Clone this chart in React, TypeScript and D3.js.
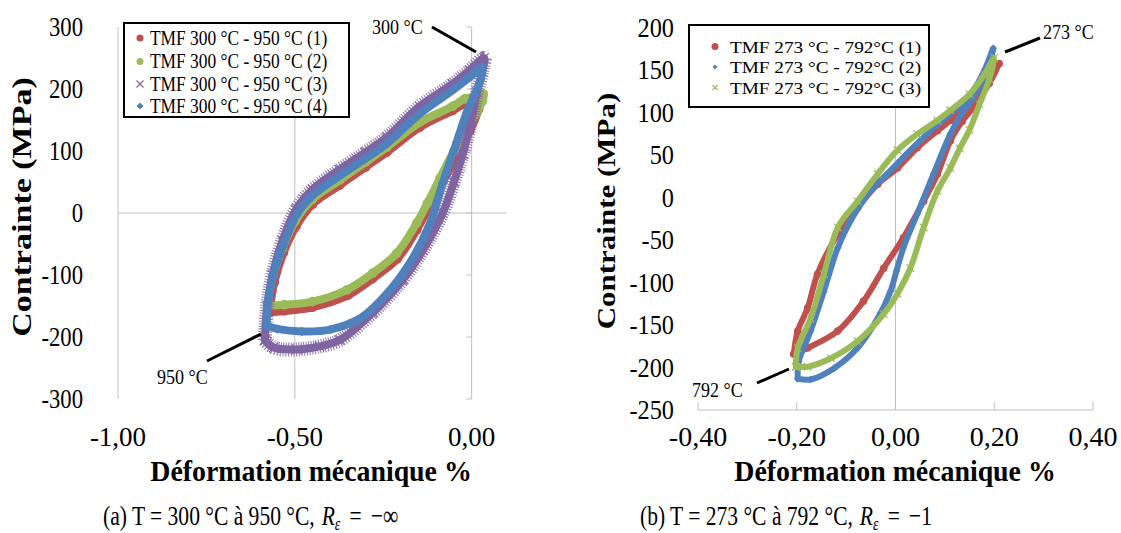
import React from "react";
import * as d3 from "d3";

// ---------- DATA (strain %, stress MPa) ----------
// Left chart: TMF 300 °C - 950 °C
const leftSeriesNames = [
  "TMF 300 °C - 950 °C (1)",
  "TMF 300 °C - 950 °C (2)",
  "TMF 300 °C - 950 °C (3)",
  "TMF 300 °C - 950 °C (4)",
];
const tmf300_1: [number, number][] = [
  [-0.572, -160], [-0.558, -112], [-0.532, -64], [-0.497, -22], [-0.45, 14], [-0.373, 45],
  [-0.3, 74], [-0.24, 98], [-0.147, 138], [-0.054, 165], [-0.015, 177], [0.022, 182],
  [0.02, 168], [-0.005, 132], [-0.04, 92], [-0.08, 52], [-0.12, 10], [-0.155, -27],
  [-0.21, -74], [-0.28, -106], [-0.35, -133], [-0.45, -152], [-0.53, -158], [-0.572, -160],
];
const tmf300_2: [number, number][] = [
  [-0.577, -150], [-0.563, -104], [-0.535, -58], [-0.5, -14], [-0.45, 22], [-0.373, 53],
  [-0.3, 82], [-0.24, 106], [-0.147, 146], [-0.054, 172], [-0.02, 184], [0.01, 188], [0.033, 192],
  [0.03, 180], [0.012, 160], [-0.01, 140], [-0.05, 100], [-0.09, 56], [-0.125, 16], [-0.155, -16],
  [-0.212, -65], [-0.28, -97], [-0.353, -124], [-0.45, -143], [-0.53, -148], [-0.577, -150],
];
const tmf300_3: [number, number][] = [
  [-0.585, -205], [-0.578, -150], [-0.563, -100], [-0.535, -45], [-0.496, 6], [-0.45, 38],
  [-0.373, 70], [-0.3, 98], [-0.24, 122], [-0.147, 172], [-0.054, 208], [-0.006, 230], [0.035, 250],
  [0.03, 228], [0.015, 195], [0.0, 152], [-0.025, 95], [-0.05, 50], [-0.082, 0], [-0.138, -60],
  [-0.195, -108], [-0.28, -161], [-0.373, -205], [-0.43, -215], [-0.494, -220], [-0.56, -217], [-0.585, -205],
];
const tmf300_4: [number, number][] = [
  [-0.58, -182], [-0.576, -145], [-0.563, -103], [-0.535, -55], [-0.496, -4], [-0.45, 28],
  [-0.373, 60], [-0.3, 88], [-0.24, 112], [-0.147, 160], [-0.054, 198], [-0.006, 219], [0.03, 235],
  [0.025, 215], [0.012, 195], [-0.014, 162], [-0.042, 115], [-0.082, 48], [-0.12, -20], [-0.175, -81],
  [-0.23, -124], [-0.31, -168], [-0.4, -188], [-0.48, -191], [-0.55, -187], [-0.58, -182],
];
const leftXTicks = [-1, -0.5, 0];
const leftYTicks = [-300, -200, -100, 0, 100, 200, 300];

// Right chart: TMF 273 °C - 792 °C
const rightSeriesNames = [
  "TMF 273 °C - 792°C (1)",
  "TMF 273 °C - 792°C (2)",
  "TMF 273 °C - 792°C (3)",
];
const tmf273_1: [number, number][] = [
  [-0.206, -184], [-0.198, -157], [-0.178, -130], [-0.158, -90], [-0.117, -43], [-0.077, -12],
  [-0.036, 16], [0.004, 35], [0.044, 59], [0.085, 79], [0.111, 91], [0.15, 112], [0.185, 138], [0.21, 158],
  [0.19, 135], [0.16, 108], [0.135, 90], [0.111, 67], [0.085, 28], [0.057, -4], [0.016, -47],
  [-0.024, -83], [-0.065, -122], [-0.117, -157], [-0.178, -177], [-0.206, -184],
];
const tmf273_2: [number, number][] = [
  [-0.198, -213], [-0.196, -193], [-0.172, -157], [-0.145, -110], [-0.117, -59], [-0.091, -27],
  [-0.051, 8], [-0.01, 32], [0.03, 56], [0.071, 79], [0.111, 99], [0.15, 120], [0.18, 150], [0.198, 176],
  [0.185, 150], [0.16, 120], [0.135, 100], [0.111, 75], [0.077, 28], [0.044, -19], [0.016, -59],
  [0.002, -86], [-0.01, -110], [-0.036, -142], [-0.077, -177], [-0.125, -201], [-0.172, -214], [-0.198, -213],
];
const tmf273_3: [number, number][] = [
  [-0.202, -199], [-0.198, -177], [-0.172, -142], [-0.145, -90], [-0.117, -35], [-0.077, -4],
  [-0.036, 28], [0.004, 56], [0.044, 75], [0.085, 91], [0.111, 103], [0.15, 122], [0.18, 145], [0.2, 165],
  [0.19, 140], [0.17, 110], [0.15, 80], [0.13, 58], [0.111, 35], [0.085, 8], [0.057, -35], [0.03, -83],
  [0.004, -113], [-0.024, -137], [-0.077, -169], [-0.131, -189], [-0.178, -199], [-0.202, -199],
];
const rightXTicks = [-0.4, -0.2, 0, 0.2, 0.4];
const rightYTicks = [-250, -200, -150, -100, -50, 0, 50, 100, 150, 200];

// ---------- STYLE ----------
const RED = "#c0504d";
const GREEN = "#9bbb59";
const PURPLE = "#8064a2";
const BLUE = "#4f81bd";
const AXIS = "#bfbfbf";
const FONT = "'Liberation Serif', 'Times New Roman', serif";
const SX = 0.82; // horizontal condensation of the reference picture

const fmtComma = (v: number) => d3.format(".2f")(v).replace(".", ",").replace("−", "-");

type TxtProps = {
  x: number; y: number; size: number; anchor?: string; weight?: string | number;
  sx?: number; rotate?: number; children: React.ReactNode;
};
function Txt({ x, y, size, anchor = "start", weight = "normal", sx = SX, rotate, children }: TxtProps) {
  const t = `translate(${x},${y}) scale(${sx},1)` + (rotate ? ` rotate(${rotate})` : "");
  return (
    <text transform={t} fontSize={size} textAnchor={anchor} fontWeight={weight}
      fontFamily={FONT} fill="#000">
      {children}
    </text>
  );
}

function Marker({ type, x, y, color, s }: { type: string; x: number; y: number; color: string; s: number }) {
  if (type === "circle") return <circle cx={x} cy={y} r={s} fill={color} />;
  if (type === "diamond")
    return <path d={`M${x},${y - s}L${x + s},${y}L${x},${y + s}L${x - s},${y}Z`} fill={color} />;
  return (
    <path d={`M${x - s},${y - s}L${x + s},${y + s}M${x - s},${y + s}L${x + s},${y - s}`}
      stroke={color} strokeWidth={1.2} fill="none" />
  );
}

function Band({ data, x, y, color, width, marker, hairy }: any) {
  const line = d3.line<[number, number]>().x((d) => x(d[0])).y((d) => y(d[1])).curve(d3.curveCatmullRom.alpha(0.5));
  const d = line(data) || "";
  return (
    <g>
      {hairy && (
        <path d={d} fill="none" stroke={color} strokeWidth={width + 6} strokeDasharray="1 1.6" opacity={0.9} />
      )}
      <path d={d} fill="none" stroke={color} strokeWidth={width} strokeLinejoin="round" strokeLinecap="round" />
      {data.map((p: [number, number], i: number) => (
        <Marker key={i} type={marker} x={x(p[0])} y={y(p[1])} color={color} s={width / 2 + 0.8} />
      ))}
    </g>
  );
}

function LeftChart() {
  const x = d3.scaleLinear().domain([-1, 0.1]).range([118, 507]);
  const y = d3.scaleLinear().domain([-300, 300]).range([399, 27]);
  const series = [
    { data: tmf300_1, color: RED, marker: "circle" },
    { data: tmf300_2, color: GREEN, marker: "circle" },
    { data: tmf300_3, color: PURPLE, marker: "cross", hairy: true },
    { data: tmf300_4, color: BLUE, marker: "diamond" },
  ];
  const legendY = [38, 61.5, 84, 106];
  return (
    <g>
      {leftXTicks.filter((t) => t !== 0).map((t) => (
        <line key={t} x1={x(t)} x2={x(t)} y1={y(300)} y2={y(-300)} stroke={AXIS} strokeWidth={1} />
      ))}
      <line x1={x(0)} x2={x(0)} y1={y(300)} y2={y(-300)} stroke={AXIS} strokeWidth={1} />
      {leftYTicks.map((t) => (
        <line key={t} x1={x(0) - 5} x2={x(0)} y1={y(t)} y2={y(t)} stroke={AXIS} strokeWidth={1} />
      ))}
      <line x1={x(-1)} x2={x(0.1)} y1={y(0)} y2={y(0)} stroke={AXIS} strokeWidth={1} />
      {leftYTicks.map((t) => (
        <Txt key={t} x={83} y={y(t) + 9} size={27} anchor="end" sx={0.84}>{String(t)}</Txt>
      ))}
      {leftXTicks.map((t) => (
        <Txt key={t} x={x(t)} y={446} size={27} anchor="middle" sx={1}>{fmtComma(t)}</Txt>
      ))}
      {series.map((s, i) => (
        <Band key={i} data={s.data} x={x} y={y} color={s.color} width={8} marker={s.marker} hairy={s.hairy} />
      ))}
      <line x1={432} y1={27} x2={476} y2={52} stroke="#000" strokeWidth={3} />
      <Txt x={372} y={34} size={22}>300 °C</Txt>
      <line x1={207} y1={361} x2={261} y2={334} stroke="#000" strokeWidth={3} />
      <Txt x={157} y={384} size={22}>950 °C</Txt>
      <rect x={124} y={23} width={225} height={94} fill="#fff" stroke="#000" strokeWidth={2} />
      {series.map((s, i) => (
        <g key={i}>
          <Marker type={s.marker} x={140} y={legendY[i]} color={s.color} s={3.5} />
          <Txt x={150} y={legendY[i] + 6.5} size={20} sx={0.87}>{leftSeriesNames[i]}</Txt>
        </g>
      ))}
      <Txt x={311} y={481} size={29} anchor="middle" weight="bold" sx={0.96}>Déformation mécanique %</Txt>
      <Txt x={31} y={207} size={34} anchor="middle" weight="bold" rotate={-90}>Contrainte (MPa)</Txt>
    </g>
  );
}

function RightChart() {
  const x = d3.scaleLinear().domain([-0.4, 0.4]).range([698, 1093]);
  const y = d3.scaleLinear().domain([-250, 200]).range([410, 28]);
  const series = [
    { data: tmf273_1, color: RED, marker: "circle" },
    { data: tmf273_2, color: BLUE, marker: "diamond" },
    { data: tmf273_3, color: GREEN, marker: "cross" },
  ];
  const legendY = [46.5, 67, 87.5];
  return (
    <g>
      <line x1={x(0)} x2={x(0)} y1={y(200)} y2={y(-250)} stroke={AXIS} strokeWidth={1} />
      <line x1={x(-0.4)} x2={x(0.4)} y1={y(-250)} y2={y(-250)} stroke={AXIS} strokeWidth={1} />
      {rightXTicks.map((t) => (
        <line key={t} x1={x(t)} x2={x(t)} y1={y(-250)} y2={y(-250) - 8} stroke={AXIS} strokeWidth={1} />
      ))}
      {rightYTicks.map((t) => (
        <Txt key={t} x={674} y={y(t) + 9} size={27} anchor="end" sx={0.9}>{String(t)}</Txt>
      ))}
      {rightXTicks.map((t) => (
        <Txt key={t} x={x(t)} y={446} size={28} anchor="middle" sx={1}>{fmtComma(t)}</Txt>
      ))}
      {series.map((s, i) => (
        <Band key={i} data={s.data} x={x} y={y} color={s.color} width={6} marker={s.marker} />
      ))}
      <line x1={1005} y1={52} x2={1040} y2={38} stroke="#000" strokeWidth={3} />
      <Txt x={1043} y={39} size={22}>273 °C</Txt>
      <line x1={757} y1={383} x2={789} y2={369} stroke="#000" strokeWidth={3} />
      <Txt x={692} y={397} size={22}>792 °C</Txt>
      <rect x={689} y={25} width={240} height={82} fill="#fff" stroke="#000" strokeWidth={2} />
      {series.map((s, i) => (
        <g key={i}>
          <Marker type={s.marker} x={715} y={legendY[i]} color={s.color} s={i === 0 ? 3.5 : 2.5} />
          <Txt x={730} y={legendY[i] + 6} size={17.5} sx={1.1}>{rightSeriesNames[i]}</Txt>
        </g>
      ))}
      <Txt x={895} y={481} size={29} anchor="middle" weight="bold" sx={0.96}>Déformation mécanique %</Txt>
      <Txt x={615} y={211} size={31} anchor="middle" weight="bold" rotate={-90}>Contrainte (MPa)</Txt>
    </g>
  );
}

function Caption({ x, label }: { x: number; label: string[] }) {
  return (
    <text transform={`translate(${x},525) scale(0.77,1)`} fontFamily={FONT} fontSize={28} fill="#000">
      <tspan>{label[0]}</tspan>
      <tspan dx={9} fontStyle="italic">R</tspan>
      <tspan fontStyle="italic" fontSize={18} dy={5}>ε</tspan>
      <tspan dy={-5} dx={12}>=</tspan>
      <tspan dx={12}>{label[1]}</tspan>
    </text>
  );
}

export default function App() {
  return (
    <svg width={1121} height={533} viewBox="0 0 1121 533"
      style={{ position: "absolute", left: 0, top: 0, background: "#fff" }}>
      <rect width={1121} height={533} fill="#fff" />
      <LeftChart />
      <RightChart />
      <Caption x={103} label={["(a)  T = 300 °C à 950 °C,", "−∞"]} />
      <Caption x={640} label={["(b) T = 273 °C à 792 °C,", "−1"]} />
    </svg>
  );
}
